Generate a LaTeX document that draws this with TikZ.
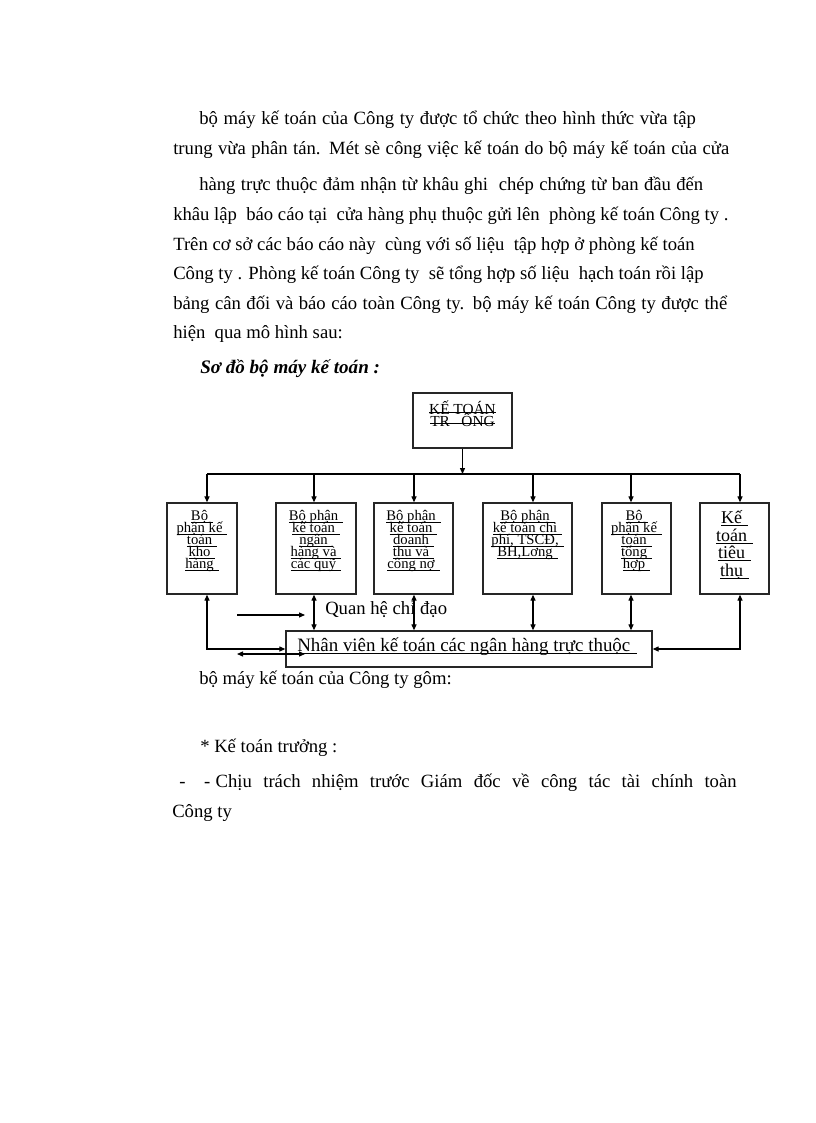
\documentclass[tikz,border=0pt]{standalone}
\usepackage{fontspec}
\setmainfont{Liberation Serif}
\usetikzlibrary{arrows.meta,calc}
\newlength\stkw
\newcommand\strk[1]{\settowidth\stkw{#1}\rlap{#1}\rule[0.28ex]{\stkw}{0.6pt}}
\newcommand\uln[1]{\underline{\raisebox{0pt}[\height][0pt]{#1\,\,}}}
\newcommand\tightlines{\lineskiplimit=-20pt\relax\lineskip=0pt\relax}
\tikzset{
  body/.style={anchor=base west,inner sep=0pt,font=\fontsize{14}{16}\selectfont},
  box/.style={draw=black!85,line width=1pt,inner sep=0pt},
  btxt/.style={anchor=north,inner sep=0pt,align=center,font=\fontsize{11}{9}\selectfont\tightlines},
  conn/.style={line width=0.8pt},
  arr/.style={conn,-{Triangle[length=4.5pt,width=3.8pt]}},
  dbl/.style={conn,{Triangle[length=4.5pt,width=3.8pt]}-{Triangle[length=4.5pt,width=3.8pt]}}
}
\begin{document}
\begin{tikzpicture}[x=0.75pt,y=-0.75pt]
\useasboundingbox[fill=white] (0,0) rectangle (816,1123);
% body text
\node[body] (l1) at (199,125) {\makebox[372.5pt][s]{bộ máy kế toán của Công ty được tổ chức theo hình thức vừa tập}};
\node[body] (l2) at (173,155) {\makebox[417pt][s]{trung vừa phân tán. Mét sè công việc kế toán do bộ máy kế toán của cửa}};
\node[body] (l3) at (199,191) {\makebox[378pt][s]{hàng trực thuộc đảm nhận từ khâu ghi\ \ chép chứng từ ban đầu đến}};
\node[body] (l4) at (173,221) {khâu lập\ \ báo cáo tại\ \ cửa hàng phụ thuộc gửi lên\ \ phòng kế toán Công ty .};
\node[body] (l5) at (173,250) {Trên cơ sở các báo cáo này\ \ cùng với số liệu\ \ tập hợp ở phòng kế toán};
\node[body] (l6) at (173,279) {Công ty . Phòng kế toán Công ty\ \ sẽ tổng hợp số liệu\ \ hạch toán rồi lập};
\node[body] (l7) at (173,309) {\makebox[415.5pt][s]{bảng cân đối và báo cáo toàn Công ty. bộ máy kế toán Công ty được thể}};
\node[body] (l8) at (173,338) {hiện\ \ qua mô hình sau:};
\node[body,font=\fontsize{14.3}{16}\selectfont\bfseries\itshape] (l9) at (200,373) {Sơ đồ bộ máy kế toán :};
\node[body] (l10) at (199,684) {bộ máy kế toán của Công ty gôm:};
\node[body] (l11) at (200,752) {* Kế toán trưởng :};
\node[body] (l12) at (179,787) {\makebox[418pt][s]{-\hspace{14pt}-\hspace{4pt}Chịu trách nhiệm trước Giám đốc về công tác tài chính toàn}};
\node[body] (l13) at (172,817) {Công ty};
% boxes
\node[box,minimum width=74.25pt,minimum height=41.25pt] (top) at (462.5,420.5) {};
\node[btxt,font=\fontsize{11.5}{8.5}\selectfont\tightlines] (topt) at (462.5,401) {\strk{KẾ TOÁN}\\\strk{TR\ \ \ ÔNG}};
\node[box,minimum width=52.5pt,minimum height=68.25pt] (b1) at (202,548.5) {};
\node[box,minimum width=60pt,minimum height=68.25pt] (b2) at (316,548.5) {};
\node[box,minimum width=59.25pt,minimum height=68.25pt] (b3) at (413.5,548.5) {};
\node[box,minimum width=66.75pt,minimum height=68.25pt] (b4) at (527.5,548.5) {};
\node[box,minimum width=51.75pt,minimum height=68.25pt] (b5) at (636.5,548.5) {};
\node[box,minimum width=51.75pt,minimum height=68.25pt] (b6) at (734.5,548.5) {};
\node[box,minimum width=274.5pt,minimum height=27pt] (bot) at (469,649) {};
\node[btxt] (t1) at (202,510) {\uln{Bộ}\\\uln{phận kế}\\\uln{toán}\\\uln{kho}\\\uln{hàng}};
\node[btxt] (t2) at (316,510) {\uln{Bộ phận}\\\uln{kế toán}\\\uln{ngân}\\\uln{hàng và}\\\uln{các quỹ}};
\node[btxt] (t3) at (413.5,510) {\uln{Bộ phận}\\\uln{kế toán}\\\uln{doanh}\\\uln{thu và}\\\uln{công nợ}};
\node[btxt] (t4) at (527.5,510) {\uln{Bộ phận}\\\uln{kế toán chi}\\\uln{phí, TSCĐ,}\\\uln{BH,Lơng}};
\node[btxt] (t5) at (636.5,510) {\uln{Bộ}\\\uln{phận kế}\\\uln{toán}\\\uln{tổng}\\\uln{hợp}};
\node[btxt,font=\fontsize{13.5}{13.3}\selectfont\tightlines] (t6) at (734.5,510) {\uln{Kế}\\\uln{toán}\\\uln{tiêu}\\\uln{thụ}};
\node[body,font=\fontsize{14.2}{15}\selectfont] (bott) at (297,651) {\uln{Nhân viên kế toán các ngân hàng trực thuộc}};
\node[body,font=\fontsize{14}{16}\selectfont] (qh) at (325,614) {Quan hệ chỉ đạo};
% bus coordinates
\coordinate (c1) at (207,474);
\coordinate (c2) at (314,474);
\coordinate (c3) at (414,474);
\coordinate (c4) at (533,474);
\coordinate (c5) at (631,474);
\coordinate (c6) at (740,474);
\coordinate (qa) at (237,615);
\coordinate (qb) at (305,615);
\coordinate (da) at (237,654);
\coordinate (db) at (305,654);
% connectors
\draw[arr] (top.south) -- (top.south |- c1);
\draw[conn] (c1) -- (c6);
\foreach \c/\b in {c1/b1,c2/b2,c3/b3,c4/b4,c5/b5,c6/b6}
  \draw[arr] (\c) -- (\b.north -| \c);
\foreach \c/\b in {c2/b2,c3/b3,c4/b4,c5/b5}
  \draw[dbl] (\b.south -| \c) -- (bot.north -| \c);
\draw[dbl] (b1.south -| c1) |- (bot.west);
\draw[dbl] (b6.south -| c6) |- (bot.east);
\draw[arr] (qa) -- (qb);
\draw[dbl] (da) -- (db);
\end{tikzpicture}
\end{document}
